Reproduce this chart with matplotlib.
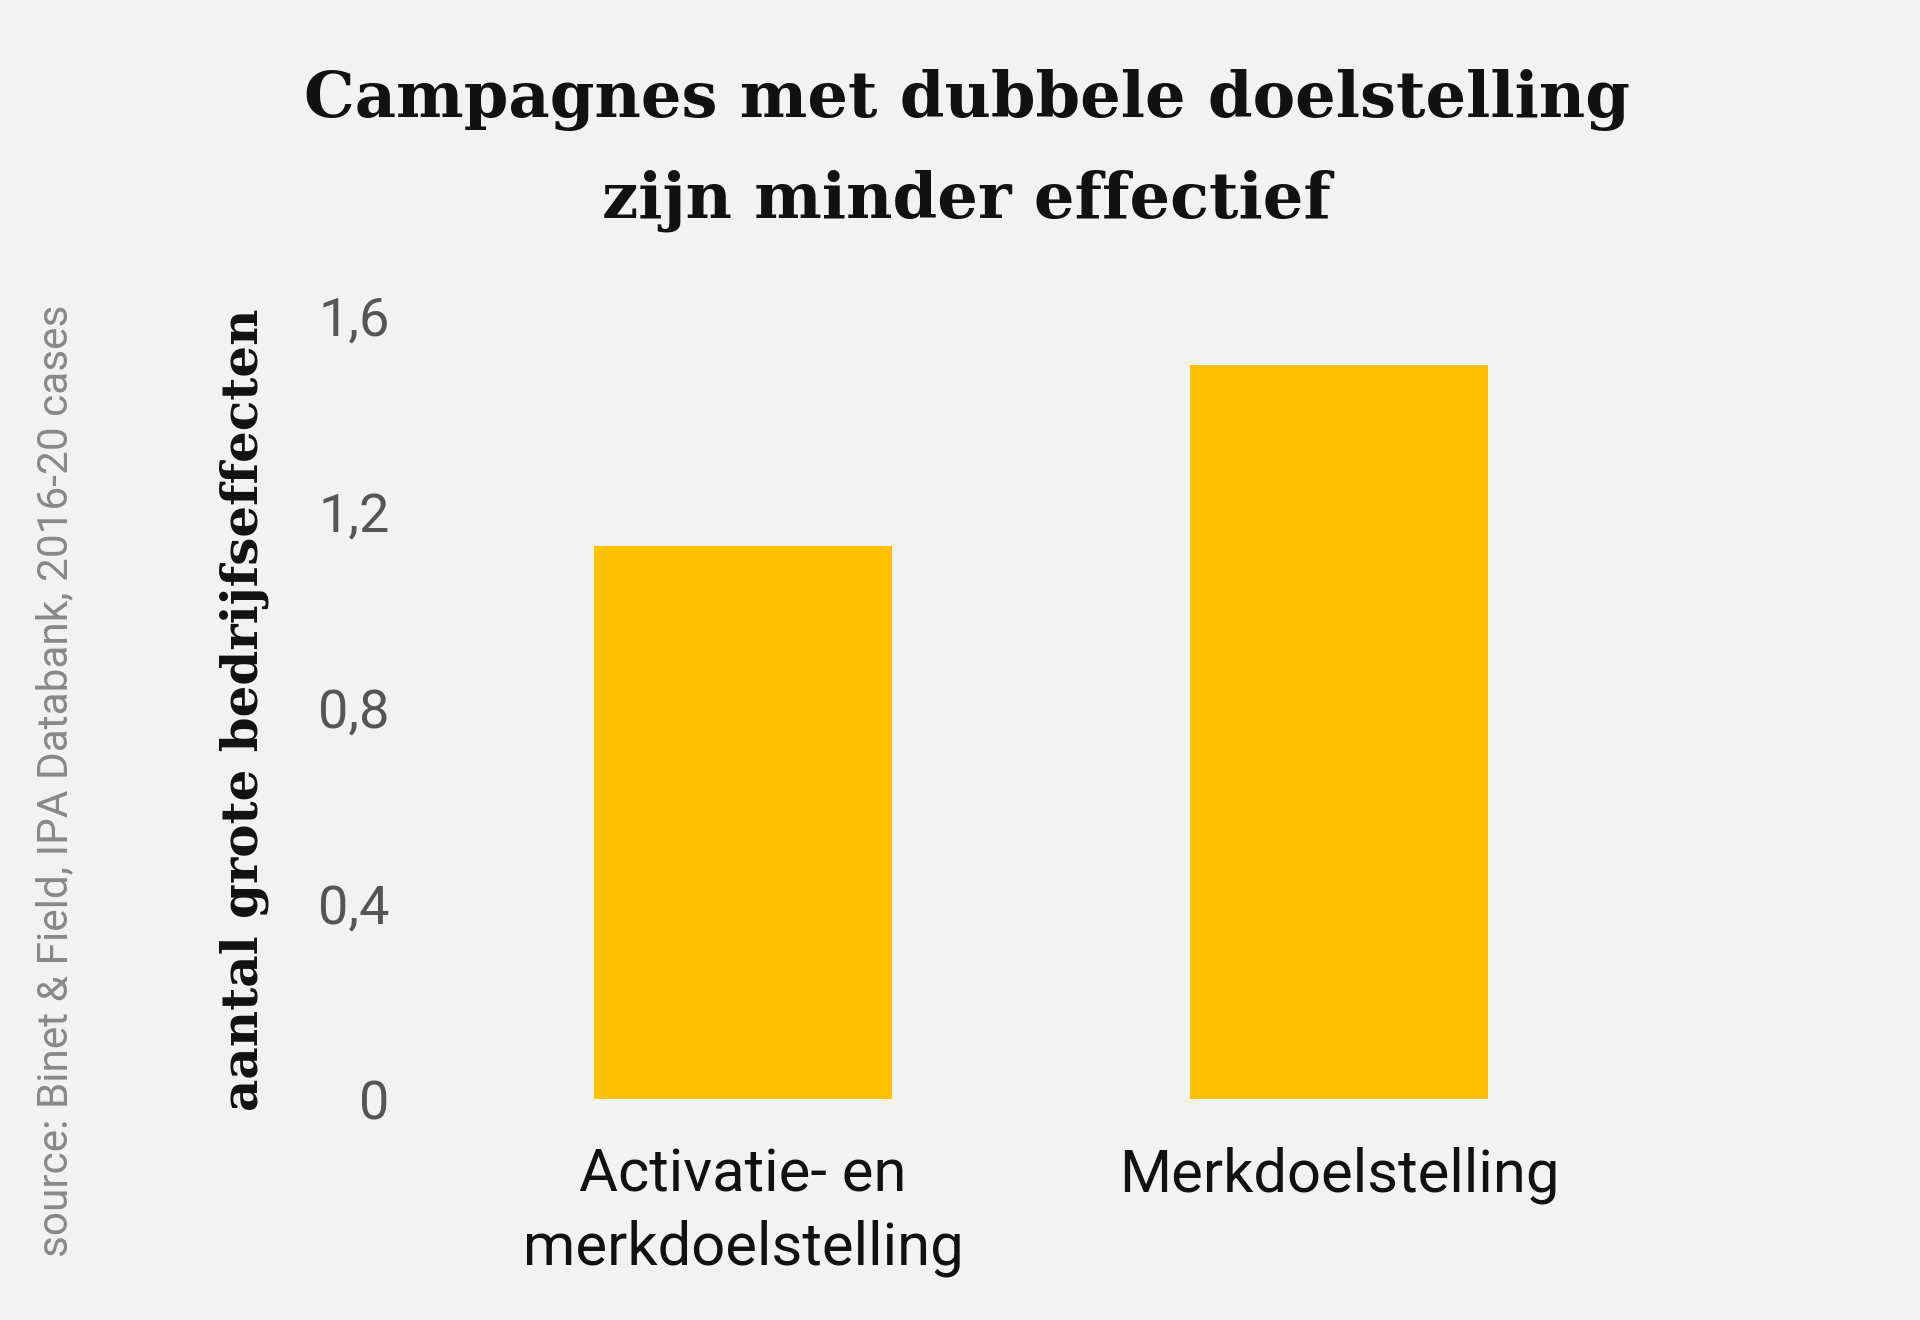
import matplotlib
matplotlib.use("Agg")
from matplotlib import pyplot as plt

categories = ["Activatie- en\nmerkdoelstelling", "Merkdoelstelling"]
values = [1.13, 1.5]
yticks = [0, 0.4, 0.8, 1.2, 1.6]
ytick_labels = ["0", "0,4", "0,8", "1,2", "1,6"]

bg = "#f2f2f2"
bar_color = "#ffc200"

fig = plt.figure(figsize=(19.2, 13.2), dpi=100, facecolor=bg)
ax = fig.add_axes([0.2318, 0.1674, 0.6208, 0.5932], facecolor=bg)

ax.bar(range(len(categories)), values, width=0.5, color=bar_color)
ax.set_xlim(-0.5, 1.5)
ax.set_ylim(0, 1.6)

ax.set_yticks(yticks)
ax.set_yticklabels(ytick_labels, fontfamily="Roboto", fontsize=39, color="#555555")
ax.set_xticks(range(len(categories)))
ax.set_xticklabels(categories, fontfamily="Roboto", fontsize=43, color="#111111",
                   linespacing=1.36)
ax.tick_params(axis="y", length=0, pad=40)
ax.tick_params(axis="x", length=0, pad=34)
for s in ax.spines.values():
    s.set_visible(False)

fig.text(0.5036, 0.886, "Campagnes met dubbele doelstelling\nzijn minder effectief",
         ha="center", va="center", fontfamily="DejaVu Serif", fontweight="bold",
         fontsize=46, color="#111111", linespacing=1.8)

fig.text(244 / 1920, 1 - 710 / 1320, "aantal grote bedrijfseffecten", rotation=90,
         ha="center", va="center", fontfamily="DejaVu Serif", fontweight="bold",
         fontsize=36, color="#111111")

fig.text(56 / 1920, 1 - 781 / 1320, "source: Binet & Field, IPA Databank, 2016-20 cases",
         rotation=90, ha="center", va="center", fontfamily="Roboto",
         fontsize=30.5, color="#888888")

fig.savefig("out.png", dpi=100, facecolor=bg)
